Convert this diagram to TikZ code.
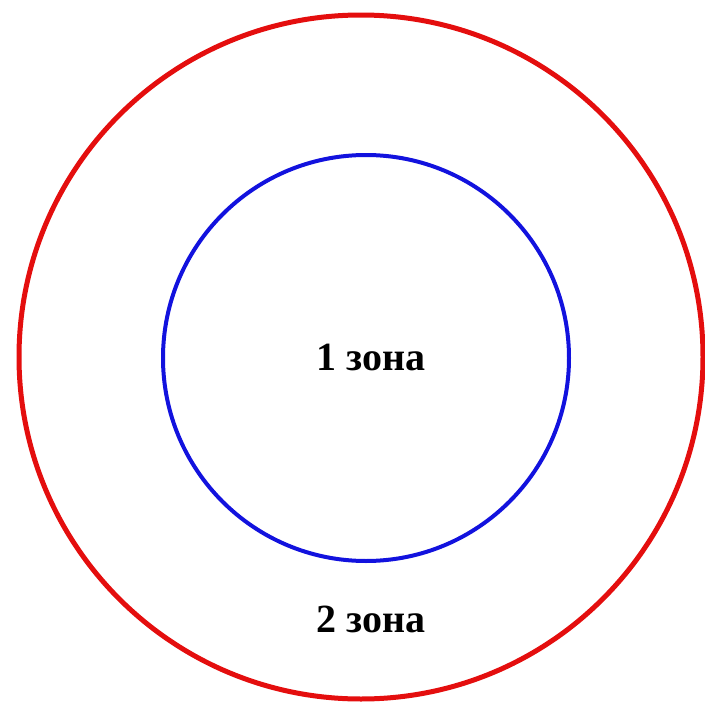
\documentclass[tikz,border=0pt]{standalone}
\usepackage{fontspec}
\setmainfont{Liberation Serif}
\definecolor{zonered}{RGB}{228,14,14}
\definecolor{zoneblue}{RGB}{18,18,222}
\begin{document}
\begin{tikzpicture}[
  x=1pt, y=-1pt,
  every node/.style={font=\fontsize{40}{44}\selectfont\bfseries},
  zone/.style={
    circle,
    draw,
    inner sep=0pt
  },
  label/.style={anchor=base}
]
\useasboundingbox (0,0) rectangle (705,704);
\node[zone, draw=zonered, line width=5pt, minimum size=684pt] (outer) at (361,357) {};
\node[zone, draw=zoneblue, line width=4pt, minimum size=406pt] (inner) at (366,358) {};
\node[label] (one) at (371,370) {1 зона};
\node[label] (two) at (371,632) {2 зона};
\end{tikzpicture}
\end{document}
